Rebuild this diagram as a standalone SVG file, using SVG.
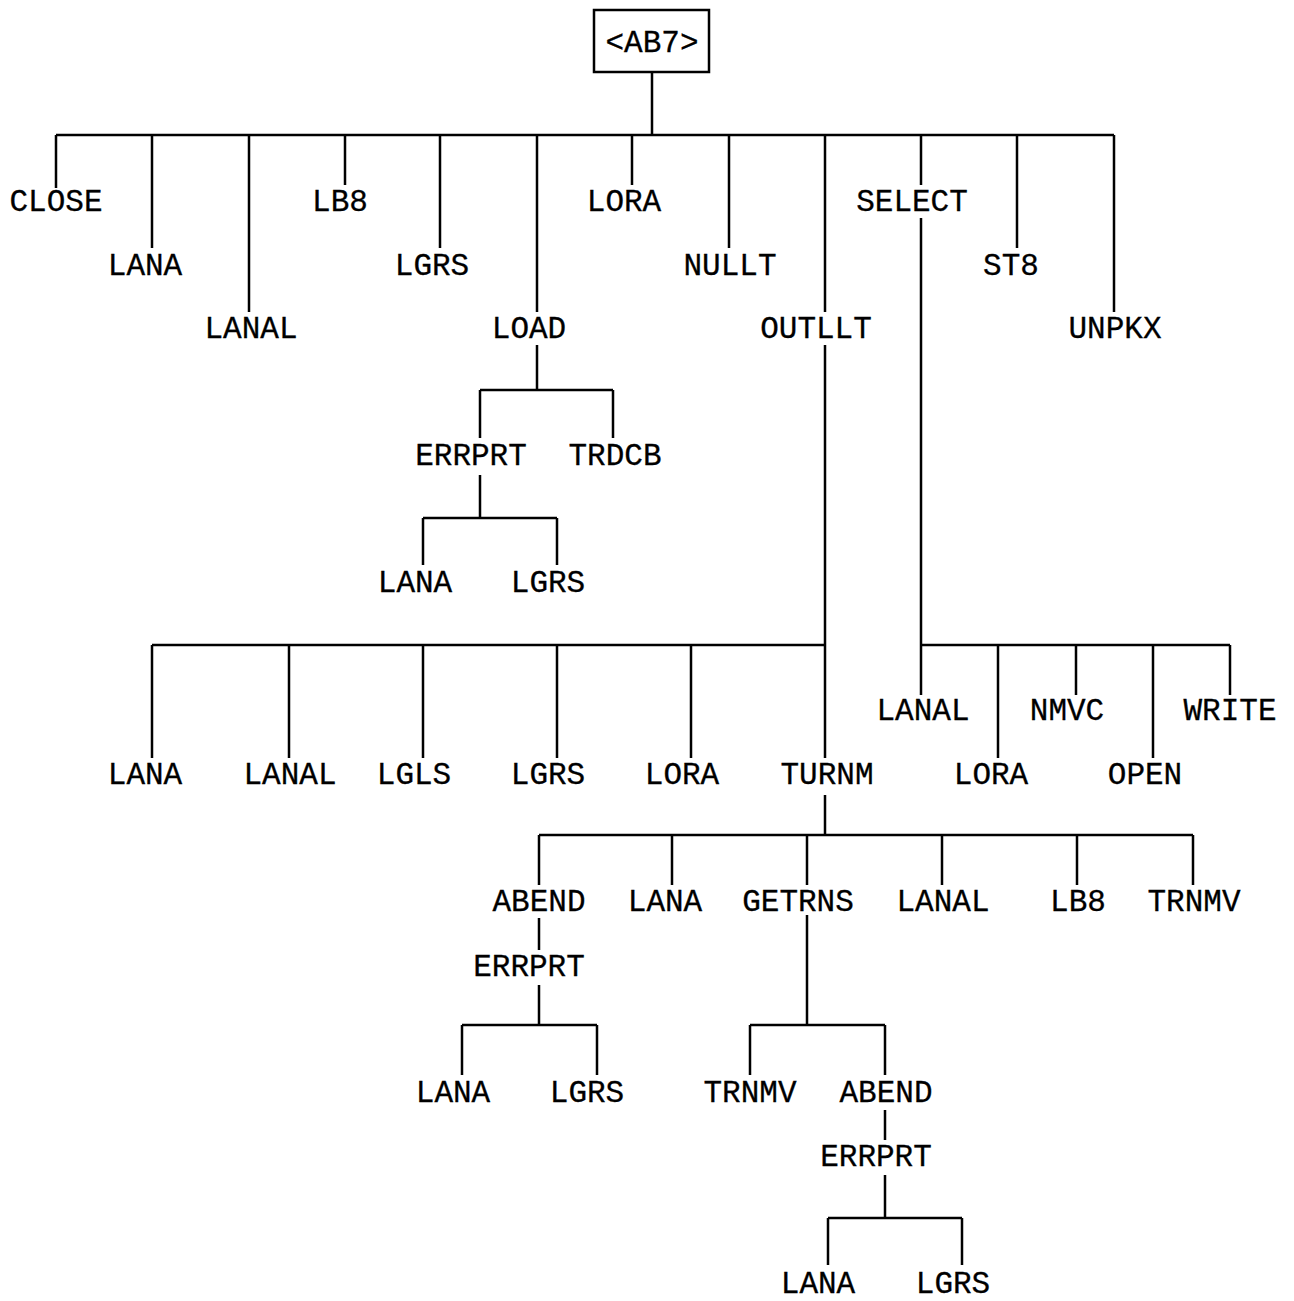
<svg xmlns="http://www.w3.org/2000/svg" width="1294" height="1301" viewBox="0 0 1294 1301">
<style>
text{font-family:"Liberation Mono","Courier New",monospace;font-size:31px;fill:#000;text-anchor:middle;stroke:#000;stroke-width:0.3}
.c{stroke:#000;stroke-width:2.5;fill:none}
</style>
<rect width="1294" height="1301" fill="#fff"/>
<g id="connectors" class="c">
<path d="M652 72V135M56 135H1114M56 135V188M152 135V248M249 135V312M345 135V185M440 135V248M537 135V312M632 135V185M729 135V248M825 135V312M921 135V185M1017 135V248M1114 135V312"/>
<path d="M537 345V390M480 390H613M480 390V438M613 390V438M480 475V518M423 518H557M423 518V565M557 518V565"/>
<path d="M825 345V645M152 645H825M152 645V758M289 645V758M423 645V758M557 645V758M691 645V758M825 645V758"/>
<path d="M921 218V645M921 645H1230M921 645V695M998 645V758M1076 645V695M1153 645V758M1230 645V695"/>
<path d="M825 795V835M539 835H1193M539 835V885M672 835V885M807 835V885M942 835V885M1077 835V885M1193 835V885"/>
<path d="M539 918V950M539 985V1025M462 1025H597M462 1025V1075M597 1025V1075"/>
<path d="M807 915V1025M750 1025H885M750 1025V1075M885 1025V1075M885 1110V1140M885 1175V1218M828 1218H962M828 1218V1265M962 1218V1265"/>
</g>
<g id="root"><rect x="594" y="10" width="115" height="62" class="c"/><text x="652" y="52">&lt;AB7&gt;</text></g>
<g id="n-close"><text x="56" y="211">CLOSE</text></g>
<g id="n-lana1"><text x="145" y="275">LANA</text></g>
<g id="n-lanal1"><text x="251" y="338">LANAL</text></g>
<g id="n-lb8a"><text x="340" y="211">LB8</text></g>
<g id="n-lgrs1"><text x="432" y="275">LGRS</text></g>
<g id="n-load"><text x="529" y="338">LOAD</text></g>
<g id="n-lora1"><text x="624" y="211">LORA</text></g>
<g id="n-nullt"><text x="730" y="275">NULLT</text></g>
<g id="n-outllt"><text x="816" y="338">OUTLLT</text></g>
<g id="n-select"><text x="912" y="211">SELECT</text></g>
<g id="n-st8"><text x="1011" y="275">ST8</text></g>
<g id="n-unpkx"><text x="1115" y="338">UNPKX</text></g>
<g id="n-errprt1"><text x="471" y="465">ERRPRT</text></g>
<g id="n-trdcb"><text x="615" y="465">TRDCB</text></g>
<g id="n-lana2"><text x="415" y="592">LANA</text></g>
<g id="n-lgrs2"><text x="548" y="592">LGRS</text></g>
<g id="n-lana3"><text x="145" y="784">LANA</text></g>
<g id="n-lanal3"><text x="290" y="784">LANAL</text></g>
<g id="n-lgls"><text x="414" y="784">LGLS</text></g>
<g id="n-lgrs3"><text x="548" y="784">LGRS</text></g>
<g id="n-lora3"><text x="682" y="784">LORA</text></g>
<g id="n-turnm"><text x="827" y="784">TURNM</text></g>
<g id="n-lanal4"><text x="923" y="720">LANAL</text></g>
<g id="n-lora4"><text x="991" y="784">LORA</text></g>
<g id="n-nmvc"><text x="1067" y="720">NMVC</text></g>
<g id="n-open"><text x="1145" y="784">OPEN</text></g>
<g id="n-write"><text x="1230" y="720">WRITE</text></g>
<g id="n-abend1"><text x="539" y="911">ABEND</text></g>
<g id="n-lana5"><text x="665" y="911">LANA</text></g>
<g id="n-getrns"><text x="798" y="911">GETRNS</text></g>
<g id="n-lanal5"><text x="943" y="911">LANAL</text></g>
<g id="n-lb8b"><text x="1078" y="911">LB8</text></g>
<g id="n-trnmv1"><text x="1194" y="911">TRNMV</text></g>
<g id="n-errprt2"><text x="529" y="976">ERRPRT</text></g>
<g id="n-lana6"><text x="453" y="1102">LANA</text></g>
<g id="n-lgrs6"><text x="587" y="1102">LGRS</text></g>
<g id="n-trnmv2"><text x="750" y="1102">TRNMV</text></g>
<g id="n-abend2"><text x="886" y="1102">ABEND</text></g>
<g id="n-errprt3"><text x="876" y="1166">ERRPRT</text></g>
<g id="n-lana7"><text x="818" y="1293">LANA</text></g>
<g id="n-lgrs7"><text x="953" y="1293">LGRS</text></g>
</svg>
